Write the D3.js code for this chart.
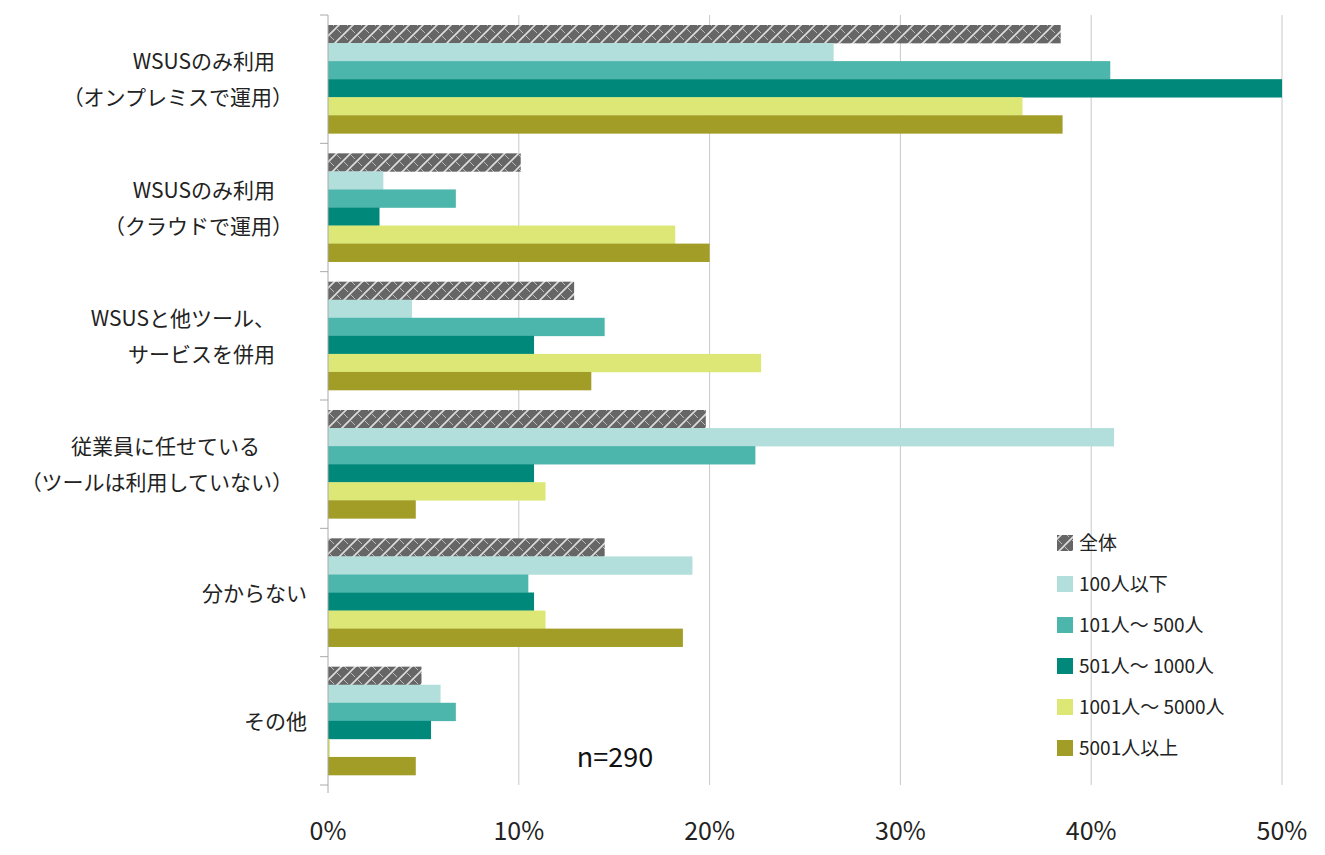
<!DOCTYPE html>
<html><head><meta charset="utf-8">
<script src="https://cdn.jsdelivr.net/npm/d3@7"></script>
<style>body{margin:0;background:#fff}text{font-family:"Noto Sans CJK JP","Noto Sans",sans-serif}</style>
</head><body><svg id="c" width="1325" height="855"></svg>
<script>
const categories=[["WSUSのみ利用","（オンプレミスで運用）"],["WSUSのみ利用","（クラウドで運用）"],["WSUSと他ツール、","サービスを併用"],["従業員に任せている","（ツールは利用していない）"],["分からない"],["その他"]];
const seriesNames=["全体","100人以下","101人～ 500人","501人～ 1000人","1001人～ 5000人","5001人以上"];
const colors=["#666666","#b2dfdb","#4db6ac","#00897b","#dce775","#a19d26"];
const values=[
 [38.4,10.1,12.9,19.8,14.5,4.9],
 [26.5,2.9,4.4,41.2,19.1,5.9],
 [41.0,6.7,14.5,22.4,10.5,6.7],
 [50.0,2.7,10.8,10.8,10.8,5.4],
 [36.4,18.2,22.7,11.4,11.4,0.1],
 [38.5,20.0,13.8,4.6,18.6,4.6]];
const xTicks=[0,10,20,30,40,50];
const svg=d3.select("#c");
const L=328,R=1282,T=15,B=785;
const defs=svg.append("defs");
const p=defs.append("pattern").attr("id","hatch").attr("patternUnits","userSpaceOnUse").attr("width",14).attr("height",14);
p.append("rect").attr("width",14).attr("height",14).attr("fill","#666");
p.append("path").attr("d","M0,14 L14,0 M-3,3 L3,-3 M11,17 L17,11").attr("stroke","#ddd").attr("stroke-width",1.6);
p.append("path").attr("d","M0,0 L5,5 M7,7 L12,12").attr("stroke","#bbb").attr("stroke-width",1);
const x=d3.scaleLinear().domain([0,50]).range([L,R]);
const y=d3.scaleBand().domain(d3.range(categories.length)).range([T,B]);
const inner=d3.scaleBand().domain(d3.range(6)).range([10,y.bandwidth()-10]);
const g=svg.append("g");
xTicks.forEach(t=>{if(t>0)g.append("line").attr("x1",x(t)).attr("x2",x(t)).attr("y1",T).attr("y2",B).attr("stroke","#c8c8c8");});
values.forEach((ser,si)=>{
 ser.forEach((v,ci)=>{
  g.append("rect").attr("x",x(0)).attr("y",y(ci)+inner(si)).attr("width",x(v)-x(0)).attr("height",inner.bandwidth()+0.3)
   .attr("fill",si===0?"url(#hatch)":colors[si]);
 });
});
g.append("line").attr("x1",L).attr("x2",L).attr("y1",T).attr("y2",B).attr("stroke","#aaa");
d3.range(categories.length+1).forEach(i=>{const yy=i<categories.length?y(i):B;
 g.append("line").attr("x1",L-8).attr("x2",L).attr("y1",yy).attr("y2",yy).attr("stroke","#aaa");});
g.append("line").attr("x1",L).attr("x2",L).attr("y1",B).attr("y2",B+8).attr("stroke","#aaa");
xTicks.forEach(t=>g.append("text").attr("x",x(t)).attr("y",840).attr("text-anchor","middle").attr("font-size",25).attr("fill","#222").text(t+"%"));
categories.forEach((c,i)=>{
 const cy=y(i)+y.bandwidth()/2-(c.length-1)*18;
 c.forEach((s,j)=>g.append("text").attr("x",c.length>1&&j==1?300:290).attr("y",cy+j*36+8).attr("text-anchor","end").attr("font-size",21).attr("fill","#222").text(s).attr("x",j==0?(i==3?260:(i>=4?307:275)):(i==3?293:(i==2?275:293))));
});
seriesNames.forEach((s,i)=>{
 const yy=543+i*41;
 g.append("rect").attr("x",1057).attr("y",yy-8).attr("width",16).attr("height",16).attr("fill",i===0?"url(#hatch)":colors[i]);
 g.append("text").attr("x",1079).attr("y",yy+7).attr("font-size",19).attr("fill","#222").text(s);
});
g.append("text").attr("x",615).attr("y",767).attr("text-anchor","middle").attr("font-size",27).attr("fill","#111").text("n=290");
</script></body></html>
